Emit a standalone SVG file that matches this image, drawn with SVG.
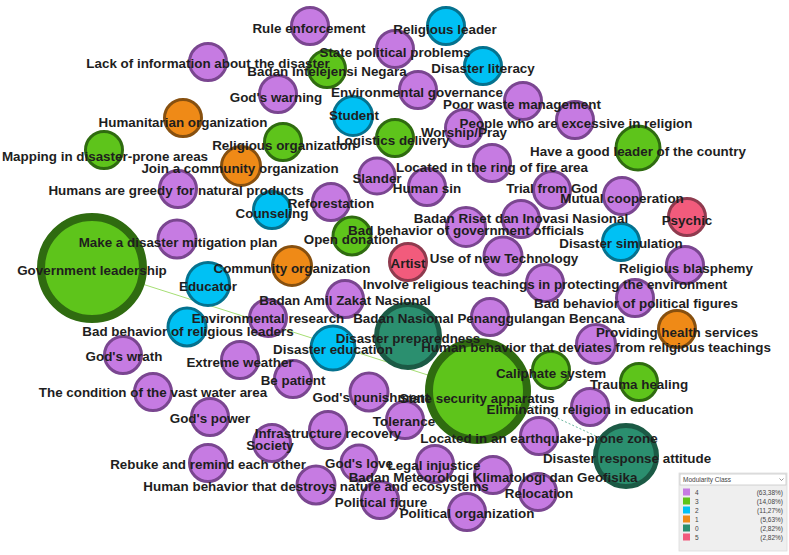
<svg xmlns="http://www.w3.org/2000/svg" width="789" height="555" viewBox="0 0 789 555">
<defs>
<style>
.c4{fill:#c67be2;stroke:#7a4690;stroke-width:3}
.c3{fill:#5ec41b;stroke:#2f6b10;stroke-width:3}
.c2{fill:#00c1f4;stroke:#05728f;stroke-width:3}
.c1{fill:#ef8a17;stroke:#87500f;stroke-width:3}
.c0{fill:#2b8f6f;stroke:#1b5a45;stroke-width:5}
.c5{fill:#f25b7c;stroke:#8f3a4e;stroke-width:3}
.big{stroke-width:8}
.lb{font-family:"Liberation Sans",Arial,sans-serif;font-weight:bold;font-size:13.4px;fill:#1e1e1e;text-anchor:middle}
.edge{fill:none;stroke-width:1}
.lg{font-family:"Liberation Sans",Arial,sans-serif;font-size:6.5px;fill:#444}
</style>
</defs>
<rect width="789" height="555" fill="#ffffff"/>
<g id="connectors">
<line class="edge" x1="92" y1="268" x2="478" y2="391" stroke="#a6de74"/>
<line class="edge" x1="478" y1="381" x2="600" y2="438" stroke="#6db7a0" stroke-dasharray="2 2"/>
</g>
<g id="nodes">
<g id="n-rule-enforcement"><circle class="c4" cx="310" cy="26" r="18.5"/></g>
<g id="n-religious-leader"><circle class="c2" cx="446" cy="26" r="18.5"/></g>
<g id="n-state-political-problems"><circle class="c4" cx="395" cy="49" r="18.5"/></g>
<g id="n-lack-of-information"><circle class="c4" cx="208" cy="62" r="18.5"/></g>
<g id="n-badan-intelejensi-negara"><circle class="c3" cx="327" cy="69" r="18.5"/></g>
<g id="n-disaster-literacy"><circle class="c2" cx="483" cy="66" r="18.5"/></g>
<g id="n-gods-warning"><circle class="c4" cx="278" cy="94" r="18.5"/></g>
<g id="n-environmental-governance"><circle class="c4" cx="418" cy="90" r="18.5"/></g>
<g id="n-poor-waste-management"><circle class="c4" cx="523" cy="101" r="18.5"/></g>
<g id="n-humanitarian-organization"><circle class="c1" cx="183" cy="118" r="18.5"/></g>
<g id="n-student"><circle class="c2" cx="353" cy="116" r="19.5"/></g>
<g id="n-people-excessive-in-religion"><circle class="c4" cx="575" cy="120" r="18.5"/></g>
<g id="n-worship-pray"><circle class="c4" cx="464" cy="128" r="18.5"/></g>
<g id="n-logistics-delivery"><circle class="c3" cx="395" cy="138" r="18.5"/></g>
<g id="n-religious-organization"><circle class="c3" cx="283" cy="142" r="18.5"/></g>
<g id="n-mapping-disaster-prone-areas"><circle class="c3" cx="104" cy="150" r="18.5"/></g>
<g id="n-good-leader-of-country"><circle class="c3" cx="638" cy="148" r="22"/></g>
<g id="n-ring-of-fire"><circle class="c4" cx="492" cy="163" r="18.5"/></g>
<g id="n-join-community-organization"><circle class="c1" cx="241" cy="166" r="19.5"/></g>
<g id="n-slander"><circle class="c4" cx="377" cy="176" r="18"/></g>
<g id="n-human-sin"><circle class="c4" cx="427" cy="187" r="18.5"/></g>
<g id="n-humans-greedy"><circle class="c4" cx="178" cy="189" r="18.5"/></g>
<g id="n-trial-from-god"><circle class="c4" cx="552" cy="190" r="18.5"/></g>
<g id="n-mutual-cooperation"><circle class="c4" cx="622" cy="196" r="18.5"/></g>
<g id="n-reforestation"><circle class="c4" cx="331" cy="202" r="18.5"/></g>
<g id="n-counseling"><circle class="c2" cx="272" cy="210" r="18.5"/></g>
<g id="n-psychic"><circle class="c5" cx="687" cy="217" r="18.5"/></g>
<g id="n-badan-riset"><circle class="c4" cx="521" cy="219" r="18.5"/></g>
<g id="n-bad-behavior-government-officials"><circle class="c4" cx="466" cy="227" r="19.5"/></g>
<g id="n-open-donation"><circle class="c3" cx="352" cy="236" r="19"/></g>
<g id="n-disaster-mitigation-plan"><circle class="c4" cx="177" cy="239" r="19"/></g>
<g id="n-disaster-simulation"><circle class="c2" cx="621" cy="242" r="18.5"/></g>
<g id="n-artist"><circle class="c5" cx="408" cy="262" r="18.5"/></g>
<g id="n-use-of-new-technology"><circle class="c4" cx="503" cy="256" r="19"/></g>
<g id="n-government-leadership"><circle class="c3 big" cx="92" cy="268" r="51"/></g>
<g id="n-community-organization"><circle class="c1" cx="292" cy="266" r="19.5"/></g>
<g id="n-religious-blasphemy"><circle class="c4" cx="685" cy="265" r="18.5"/></g>
<g id="n-educator"><circle class="c2" cx="208" cy="284" r="21.5"/></g>
<g id="n-involve-religious-teachings"><circle class="c4" cx="545" cy="283" r="18.5"/></g>
<g id="n-bad-behavior-political-figures"><circle class="c4" cx="635" cy="298" r="18.5"/></g>
<g id="n-badan-amil-zakat"><circle class="c4" cx="345" cy="299" r="18.5"/></g>
<g id="n-environmental-research"><circle class="c4" cx="268" cy="318" r="18.5"/></g>
<g id="n-bnpb"><circle class="c4" cx="490" cy="317" r="18.5"/></g>
<g id="n-bad-behavior-religious-leaders"><circle class="c2" cx="187" cy="327" r="19"/></g>
<g id="n-providing-health-services"><circle class="c1" cx="677" cy="329" r="18.5"/></g>
<g id="n-disaster-preparedness"><circle class="c0" cx="408" cy="336" r="31.5"/></g>
<g id="n-human-behavior-deviates"><circle class="c4" cx="596" cy="344" r="19.5"/></g>
<g id="n-disaster-education"><circle class="c2" cx="333" cy="348" r="22"/></g>
<g id="n-gods-wrath"><circle class="c4" cx="123" cy="355" r="18.5"/></g>
<g id="n-extreme-weather"><circle class="c4" cx="240" cy="360" r="18.5"/></g>
<g id="n-caliphate-system"><circle class="c3" cx="551" cy="370" r="18.5"/></g>
<g id="n-be-patient"><circle class="c4" cx="293" cy="379" r="18.5"/></g>
<g id="n-trauma-healing"><circle class="c3" cx="639" cy="382" r="18.5"/></g>
<g id="n-condition-vast-water-area"><circle class="c4" cx="153" cy="392" r="18.5"/></g>
<g id="n-gods-punishment"><circle class="c4" cx="369" cy="392" r="19"/></g>
<g id="n-state-security-apparatus"><circle class="c3 big" cx="478" cy="391" r="49"/></g>
<g id="n-eliminating-religion-education"><circle class="c4" cx="590" cy="407" r="18.5"/></g>
<g id="n-gods-power"><circle class="c4" cx="210" cy="417" r="18.5"/></g>
<g id="n-tolerance"><circle class="c4" cx="405" cy="420" r="18.5"/></g>
<g id="n-infrastructure-recovery"><circle class="c4" cx="328" cy="430" r="18.5"/></g>
<g id="n-earthquake-prone-zone"><circle class="c4" cx="539" cy="436" r="18.5"/></g>
<g id="n-society"><circle class="c4" cx="272" cy="443" r="18.5"/></g>
<g id="n-disaster-response-attitude"><circle class="c0" cx="626" cy="456" r="30.5"/></g>
<g id="n-rebuke-and-remind"><circle class="c4" cx="208" cy="463" r="18.5"/></g>
<g id="n-gods-love"><circle class="c4" cx="359" cy="463" r="18"/></g>
<g id="n-legal-injustice"><circle class="c4" cx="435" cy="464" r="18.5"/></g>
<g id="n-bmkg"><circle class="c4" cx="493" cy="475" r="18.5"/></g>
<g id="n-human-behavior-destroys"><circle class="c4" cx="316" cy="485" r="19"/></g>
<g id="n-relocation"><circle class="c4" cx="538" cy="492" r="18.5"/></g>
<g id="n-political-figure"><circle class="c4" cx="380" cy="500" r="18.5"/></g>
<g id="n-political-organization"><circle class="c4" cx="467" cy="512" r="18.5"/></g>
</g>
<g id="labels">
<text class="lb" x="309" y="33">Rule enforcement</text>
<text class="lb" x="445" y="34">Religious leader</text>
<text class="lb" x="395" y="57">State political problems</text>
<text class="lb" x="208" y="68">Lack of information about the disaster</text>
<text class="lb" x="327" y="76">Badan Intelejensi Negara</text>
<text class="lb" x="483" y="73">Disaster literacy</text>
<text class="lb" x="276" y="102">God's warning</text>
<text class="lb" x="417" y="97">Environmental governance</text>
<text class="lb" x="522" y="109">Poor waste management</text>
<text class="lb" x="183" y="127">Humanitarian organization</text>
<text class="lb" x="354" y="120">Student</text>
<text class="lb" x="576" y="128">People who are excessive in religion</text>
<text class="lb" x="464" y="137">Worship/Pray</text>
<text class="lb" x="393" y="145">Logistics delivery</text>
<text class="lb" x="284" y="150">Religious organization</text>
<text class="lb" x="105" y="161">Mapping in disaster-prone areas</text>
<text class="lb" x="638" y="156">Have a good leader of the country</text>
<text class="lb" x="492" y="172">Located in the ring of fire area</text>
<text class="lb" x="240" y="173">Join a community organization</text>
<text class="lb" x="377" y="183">Slander</text>
<text class="lb" x="427" y="193">Human sin</text>
<text class="lb" x="176" y="195">Humans are greedy for natural products</text>
<text class="lb" x="552" y="193">Trial from God</text>
<text class="lb" x="622" y="203">Mutual cooperation</text>
<text class="lb" x="331" y="208">Reforestation</text>
<text class="lb" x="272" y="218">Counseling</text>
<text class="lb" x="687" y="225">Psychic</text>
<text class="lb" x="521" y="223">Badan Riset dan Inovasi Nasional</text>
<text class="lb" x="466" y="235">Bad behavior of government officials</text>
<text class="lb" x="351" y="244">Open donation</text>
<text class="lb" x="178" y="247">Make a disaster mitigation plan</text>
<text class="lb" x="621" y="248">Disaster simulation</text>
<text class="lb" x="408" y="268">Artist</text>
<text class="lb" x="504" y="263">Use of new Technology</text>
<text class="lb" x="92" y="275">Government leadership</text>
<text class="lb" x="292" y="273">Community organization</text>
<text class="lb" x="686" y="273">Religious blasphemy</text>
<text class="lb" x="208" y="291">Educator</text>
<text class="lb" x="545" y="289">Involve religious teachings in protecting the environment</text>
<text class="lb" x="636" y="308">Bad behavior of political figures</text>
<text class="lb" x="345" y="305">Badan Amil Zakat Nasional</text>
<text class="lb" x="268" y="323">Environmental research</text>
<text class="lb" x="489" y="323">Badan Nasional Penanggulangan Bencana</text>
<text class="lb" x="188" y="336">Bad behavior of religious leaders</text>
<text class="lb" x="677" y="337">Providing health services</text>
<text class="lb" x="408" y="343">Disaster preparedness</text>
<text class="lb" x="596" y="352">Human behavior that deviates from religious teachings</text>
<text class="lb" x="333" y="354">Disaster education</text>
<text class="lb" x="124" y="361">God's wrath</text>
<text class="lb" x="240" y="367">Extreme weather</text>
<text class="lb" x="551" y="378">Caliphate system</text>
<text class="lb" x="293" y="385">Be patient</text>
<text class="lb" x="639" y="389">Trauma healing</text>
<text class="lb" x="153" y="397">The condition of the vast water area</text>
<text class="lb" x="371" y="402">God's punishment</text>
<text class="lb" x="477" y="403">State security apparatus</text>
<text class="lb" x="590" y="414">Eliminating religion in education</text>
<text class="lb" x="210" y="423">God's power</text>
<text class="lb" x="404" y="426">Tolerance</text>
<text class="lb" x="328" y="438">Infrastructure recovery</text>
<text class="lb" x="539" y="443">Located in an earthquake-prone zone</text>
<text class="lb" x="270" y="450">Society</text>
<text class="lb" x="627" y="463">Disaster response attitude</text>
<text class="lb" x="208" y="469">Rebuke and remind each other</text>
<text class="lb" x="359" y="468">God's love</text>
<text class="lb" x="434" y="470">Legal injustice</text>
<text class="lb" x="493" y="482">Badan Meteorologi Klimatologi dan Geofisika</text>
<text class="lb" x="316" y="491">Human behavior that destroys nature and ecosystems</text>
<text class="lb" x="539" y="498">Relocation</text>
<text class="lb" x="381" y="507">Political figure</text>
<text class="lb" x="467" y="518">Political organization</text>
</g>
<g id="legend">
<rect x="679" y="473" width="108" height="78" fill="#efefef" stroke="#dcdcdc" stroke-width="0.8"/>
<rect x="680" y="474" width="106" height="11" fill="#ffffff" stroke="#c8c8c8" stroke-width="0.8"/>
<text class="lg" x="683" y="482">Modularity Class</text>
<path d="M779.5 478.5 L781.5 480.5 L783.5 478.5" fill="none" stroke="#666" stroke-width="0.7"/>
<rect x="683" y="488.5" width="7" height="7" fill="#c67be2"/>
<rect x="683" y="497.5" width="7" height="7" fill="#5ec41b"/>
<rect x="683" y="506.5" width="7" height="7" fill="#00c1f4"/>
<rect x="683" y="515.5" width="7" height="7" fill="#ef8a17"/>
<rect x="683" y="524.5" width="7" height="7" fill="#2b8f6f"/>
<rect x="683" y="533.5" width="7" height="7" fill="#f25b7c"/>
<text class="lg" x="695" y="494.5">4</text>
<text class="lg" x="695" y="503.5">3</text>
<text class="lg" x="695" y="512.5">2</text>
<text class="lg" x="695" y="521.5">1</text>
<text class="lg" x="695" y="530.5">0</text>
<text class="lg" x="695" y="539.5">5</text>
<text class="lg" x="783" y="494.5" text-anchor="end">(63,38%)</text>
<text class="lg" x="783" y="503.5" text-anchor="end">(14,08%)</text>
<text class="lg" x="783" y="512.5" text-anchor="end">(11,27%)</text>
<text class="lg" x="783" y="521.5" text-anchor="end">(5,63%)</text>
<text class="lg" x="783" y="530.5" text-anchor="end">(2,82%)</text>
<text class="lg" x="783" y="539.5" text-anchor="end">(2,82%)</text>
</g>
</svg>
